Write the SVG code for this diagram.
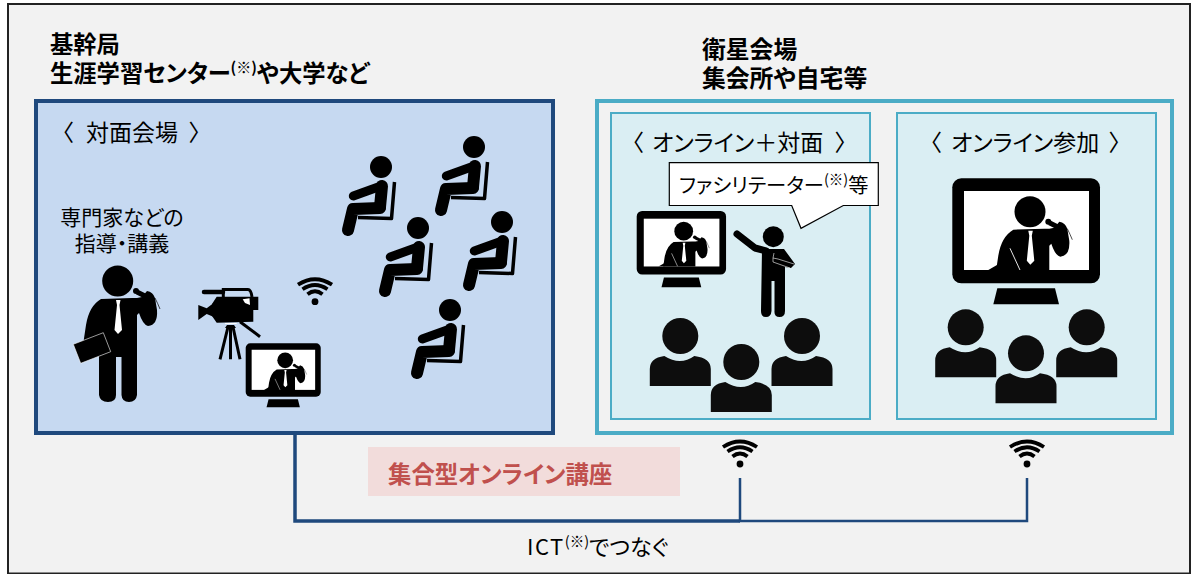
<svg xmlns="http://www.w3.org/2000/svg" width="1192" height="574" viewBox="0 0 1192 574">
<style>
text{font-family:"Noto Sans CJK JP","Noto Sans",sans-serif;fill:#000;font-feature-settings:"palt"}
.h{font-size:23.300px;font-weight:700}
.hr{font-size:23.800px;font-weight:700}
.l{font-size:23px}
.m{font-size:21px}
.c{stroke:#1F497D;fill:none;stroke-linecap:butt}
</style>
<defs>
<g id="wifi" fill="none" stroke="#000" stroke-width="3.800">
<circle cx="0" cy="0" r="3.400" fill="#000" stroke="none"/>
<path d="M-7.500-7.500Q0-13.500 7.500-7.500"/>
<path d="M-12.500-12.500Q0-21 12.500-12.500"/>
<path d="M-17-17Q0-28 17-17"/>
</g>
<g id="seat" fill="none" stroke="#000" stroke-linecap="round" stroke-linejoin="round">
<circle cx="0" cy="0" r="11" fill="#000" stroke="none"/>
<path d="M-27.700 29L0 19" stroke-width="9"/>
<path d="M1 19L-1 40" stroke-width="12"/>
<path d="M-1 41L-28 42L-33 63" stroke-width="12"/>
<path d="M13.500 15L10.500 51.500L-23 50.500" stroke-width="3.500" stroke-linecap="butt"/>
</g>
<g id="speaker">
<circle cx="117.700" cy="281" r="15.500" fill="#000"/>
<path d="M101 299Q89 306 86 325L83 345L108 352L99 356V395Q100 402 108 402T116 395V357H121.500V395Q122 402 129 402T137 395V315L139 313Q143 325 148 326Q158 325 157 310L155 298Q153 292 147 291L142 297L137 298Q134 298 132 298Z" fill="#000"/>
<path d="M137 292L147 297" stroke="#000" stroke-width="5"/>
<circle cx="136" cy="291" r="3" fill="#000"/>
<path d="M155 298Q158 304 160 309" stroke="#000" stroke-width=".7" fill="none"/>
<path d="M116 300H120.500L119.500 305L122 330L118 334L114.500 330L117 305Z" fill="#fff"/>
</g>
<clipPath id="scr"><rect x="11.700" y="12.700" width="125" height="79"/></clipPath>
<g id="monitor">
<rect x="0" y="0" width="147.700" height="105" rx="9" fill="#000"/>
<rect x="11.700" y="12.700" width="125" height="79" fill="#fff"/>
<g clip-path="url(#scr)"><use href="#speaker" x="-40" y="-247.600"/><path d="M36 91.700L46 86V91.700Z" fill="#000"/><path d="M57.700 70L67.700 91.700" stroke="#fff" stroke-width=".9"/></g>
<path d="M45 110H102.700L106.700 126H41Z" fill="#000"/>
</g>
<g id="person" fill="#0D0D0D">
<circle cx="0" cy="0" r="18"/>
<path d="M-30.500 50V33Q-30.500 22-16 20Q0 30 14 20Q30.500 22 30.500 33V50Z"/>
</g>
</defs>
<rect width="1192" height="574" fill="#fff"/>
<rect x="8" y="4" width="1182" height="569.500" fill="#F2F2F2" stroke="#222" stroke-width="2"/>
<g id="title-left"><text class="h" x="50" y="53">基幹局</text>
<text class="h" x="50" y="82">生涯学習センター<tspan style="font-size:15px" dy="-9">(※)</tspan><tspan dy="9">や大学など</tspan></text></g>
<g id="title-right"><text class="hr" x="702" y="58">衛星会場</text><text class="hr" x="702" y="87">集会所や自宅等</text></g>
<g id="connectors">
<path class="c" stroke-width="3.500" d="M295 435V521H740"/>
<path class="c" stroke-width="2.500" d="M740 478V521H1027V478"/>
</g>
<g id="venue-left">
<rect x="36" y="101" width="517" height="332" fill="#C6D9F1" stroke="#1F497D" stroke-width="4"/>
<text class="l"><tspan x="62" y="141">〈</tspan><tspan x="86" y="141">対面会場</tspan><tspan x="189" y="141">〉</tspan></text>
<text class="m" x="122" y="225" text-anchor="middle">専門家などの</text>
<text class="m" x="122" y="251" text-anchor="middle">指導・講義</text>
</g>
<g id="speaker-main"><use href="#speaker"/><path d="M73.300 344.300L103.300 332.700L110.700 351.700L80.700 363.300Z" fill="#000" stroke="#fff" stroke-width=".6"/></g>
<g id="camera">
<path d="M198.300 305L206.700 308.300L213.300 303.300V316.700L206.700 314L198.300 320Z" fill="#000"/>
<path d="M204 292H223" stroke="#000" stroke-width="4.500" stroke-linecap="round"/>
<path d="M223.300 297V289.500H248Q251 289.500 252 297" stroke="#000" stroke-width="3" fill="none"/>
<path d="M216.700 296.700H258.300V310H253.300V321.700L216.700 322.700L212 316V304Z" fill="#000"/>
<path d="M242.700 299.300L249.500 298.300L250 305L245 303Z" fill="#fff"/>
<path d="M240 321.700L260 336.700" stroke="#000" stroke-width="3"/>
<path d="M225 323.500H236.700" stroke="#fff" stroke-width="1"/>
<path d="M227 325H234L236 328H225Z" fill="#000"/>
<path d="M228 327L220 359.300M230.500 327V359.300M233 327L240 359.300" stroke="#000" stroke-width="3" fill="none"/>
</g>
<g id="wifi-left"><use href="#wifi" x="315" y="301.700"/></g>
<g id="monitor-left"><use href="#monitor" transform="translate(245.700 343.300) scale(.508)"/></g>
<g id="seats">
<use href="#seat" x="381" y="167"/><use href="#seat" x="474" y="147"/><use href="#seat" x="418" y="228"/><use href="#seat" x="502" y="222"/><use href="#seat" x="450" y="310"/>
</g>
<g id="venue-right">
<rect x="597" y="101" width="575" height="332" fill="#F2F2F2" stroke="#4BACC6" stroke-width="4"/>
</g>
<g id="room-hybrid">
<rect x="611" y="113" width="259" height="306" fill="#DAEEF3" stroke="#4BACC6" stroke-width="2"/>
<text class="l"><tspan x="632" y="151">〈</tspan><tspan x="652" y="151">オンライン＋対面</tspan><tspan x="835" y="151">〉</tspan></text>
</g>
<g id="callout">
<path d="M669.300 162.700H878.300V205.500H843.300L801 228.300L791.700 205.500H669.300Z" fill="#fff" stroke="#000" stroke-width="1.200"/>
<text x="679" y="193" style="font-size:20.300px">ファシリテーター<tspan style="font-size:14.500px" dy="-8">(※)</tspan><tspan dy="8">等</tspan></text>
</g>
<g id="monitor-hybrid"><use href="#monitor" transform="translate(636.700 211) scale(.605)"/></g>
<g id="facilitator">
<circle cx="773.300" cy="236.700" r="10.500" fill="#000"/>
<path d="M737 234L755 248L766 251" stroke="#000" stroke-width="7" fill="none" stroke-linecap="round" stroke-linejoin="round"/>
<path d="M762 249H784L795 264L791 268L785 267V311Q785 317 779.500 317T774.500 311V281H771.500V311Q771 317 766 317T761 311Z" fill="#000"/>
<path d="M774 253L773 258L778 259L794 264M773 258L773 262L790 268" stroke="#fff" stroke-width=".6" fill="none"/>
</g>
<g id="audience-hybrid"><use href="#person" x="680.300" y="336"/><use href="#person" x="802" y="336"/><use href="#person" x="741.300" y="362"/></g>
<g id="room-online">
<rect x="897" y="113" width="259" height="306" fill="#DAEEF3" stroke="#4BACC6" stroke-width="2"/>
<text class="l"><tspan x="930" y="151">〈</tspan><tspan x="951" y="151">オンライン参加</tspan><tspan x="1109" y="151">〉</tspan></text>
</g>
<g id="monitor-online"><use href="#monitor" x="952.300" y="178.300"/></g>
<g id="audience-online"><use href="#person" x="965.700" y="327.300"/><use href="#person" x="1086.700" y="327.300"/><use href="#person" x="1026" y="353.300"/></g>
<g id="wifi-a"><use href="#wifi" x="740" y="464"/></g>
<g id="wifi-b"><use href="#wifi" x="1027" y="464"/></g>
<g id="banner">
<rect x="368" y="447" width="312" height="49" fill="#F2DCDB"/>
<text x="388" y="483" style="font-size:23.400px;font-weight:700;fill:#C0504D">集合型オンライン講座</text>
</g>
<g id="ict"><text x="527" y="555" style="font-size:22px"><tspan letter-spacing="1.500">ICT</tspan><tspan style="font-size:14.500px" dy="-8">(※)</tspan><tspan dy="8">でつなぐ</tspan></text></g>
</svg>
